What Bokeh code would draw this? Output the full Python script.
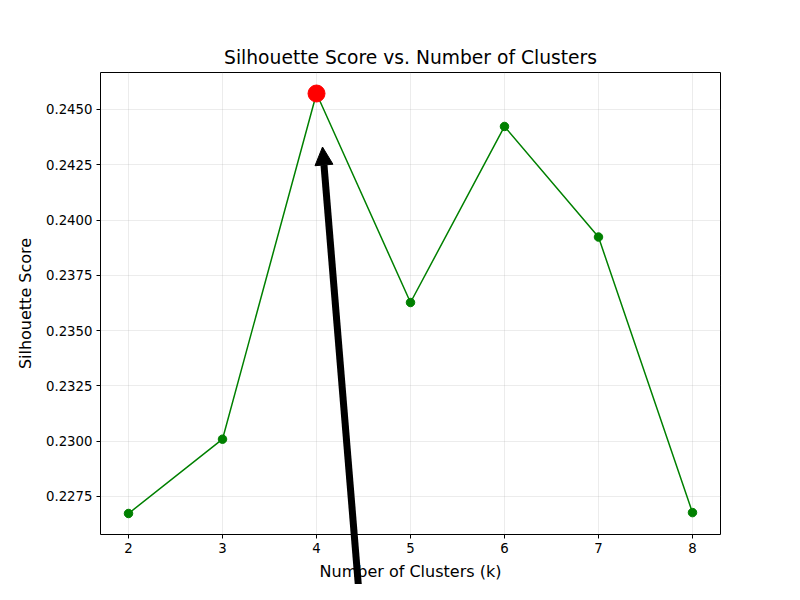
from bokeh.plotting import figure
from bokeh.layouts import column
from bokeh.models import (FixedTicker, PrintfTickFormatter, Arrow, NormalHead,
                          ColumnDataSource, Range1d)
from bokeh.embed import file_html
from bokeh.resources import INLINE

k_values = [2, 3, 4, 5, 6, 7, 8]
scores = [0.22673, 0.23009, 0.24572, 0.23627, 0.24423, 0.23923, 0.22677]
best_k = 4
best_score = 0.24572
y_ticks = [0.2275, 0.2300, 0.2325, 0.2350, 0.2375, 0.2400, 0.2425, 0.2450]
arrow_start = (4.470, 0.2222)
arrow_end = (4.064, 0.24330)

FONT = "DejaVu Sans"
W, H = 784, 584
BL, BR, BT, BB = 100, 64, 72, 50
X0, X1 = 1.702, 8.298
Y0, Y1 = 0.22578, 0.24667

p = figure(width=W, height=H, output_backend="svg", toolbar_location=None,
           x_range=Range1d(X0, X1), y_range=Range1d(Y0, Y1),
           min_border_left=BL, min_border_right=BR, min_border_top=BT,
           min_border_bottom=BB)

p.title.text = "Silhouette Score vs. Number of Clusters"
p.title.align = "center"
p.title.text_font = FONT
p.title.text_font_size = "18.7px"
p.title.text_font_style = "normal"
p.title.text_color = "black"

p.outline_line_color = "black"
p.outline_line_width = 1
p.outline_line_alpha = 1

src = ColumnDataSource(dict(k=k_values, s=scores))
p.line("k", "s", source=src, line_color="green", line_width=1.5)
p.scatter("k", "s", source=src, size=8.5, fill_color="green", line_color="green")
p.scatter([best_k], [best_score], size=17, fill_color="red", line_color="red")

p.xaxis.ticker = FixedTicker(ticks=k_values)
p.yaxis.ticker = FixedTicker(ticks=y_ticks)
p.yaxis.formatter = PrintfTickFormatter(format="%.4f")
p.xaxis.axis_label = "Number of Clusters (k)"
p.yaxis.axis_label = "Silhouette Score"

for ax in (p.xaxis[0], p.yaxis[0]):
    ax.axis_label_text_font = FONT
    ax.axis_label_text_font_size = "16px"
    ax.axis_label_text_font_style = "normal"
    ax.axis_label_text_color = "black"
    ax.major_label_text_font = FONT
    ax.major_label_text_font_size = "13.3px"
    ax.major_label_text_color = "black"
    ax.axis_line_color = None
    ax.major_tick_out = 4
    ax.major_tick_in = 0
    ax.minor_tick_line_color = None
    ax.major_tick_line_color = "black"
p.xaxis.axis_label_standoff = 6
p.yaxis.axis_label_standoff = 8
p.xaxis.major_label_standoff = 4
p.yaxis.major_label_standoff = 4

p.grid.grid_line_color = "#b0b0b0"
p.grid.grid_line_alpha = 0.3
p.grid.grid_line_width = 0.8

# Transparent overlay figure (frame aligned horizontally with p by the column
# layout, and spanning the whole canvas height) so that the annotation arrow
# may run over the x axis like in the original.
fh = H - BT - BB
dy = (Y1 - Y0) / fh
q = figure(width=W, height=H, output_backend="svg", toolbar_location=None,
           x_range=p.x_range,
           y_range=Range1d(Y0 - BB * dy, Y1 + BT * dy),
           x_axis_type=None, y_axis_type=None, min_border=0)
q.grid.visible = False
q.outline_line_color = None
q.background_fill_alpha = 0
q.border_fill_alpha = 0
q.margin = (-H, 0, 0, 0)
q.add_layout(Arrow(end=NormalHead(size=18, fill_color="black", line_color="black",
                                  line_width=1),
                   x_start=arrow_start[0], y_start=arrow_start[1],
                   x_end=arrow_end[0], y_end=arrow_end[1],
                   line_color="black", line_width=7))

layout = column(p, q, spacing=0)
open("out.html", "w").write(file_html(layout, INLINE))
